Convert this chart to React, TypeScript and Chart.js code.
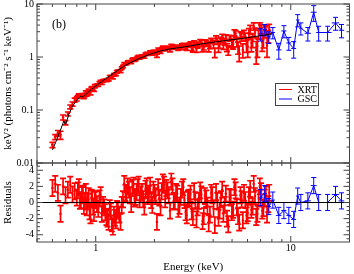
import React, { useEffect, useRef } from 'react';
import { Chart, registerables } from 'chart.js';

Chart.register(...registerables);

const SERIF = "'Liberation Serif', 'Times New Roman', Times, serif";

// ---------- XRT (red), first half of the bins ----------
const xrtEnergy = [
  0.60, 0.62, 0.64, 0.66, 0.68, 0.70, 0.72, 0.74, 0.76, 0.78, 0.80, 0.82, 0.84, 0.86, 0.88, 0.90, 0.92, 0.94, 0.96, 0.98,
  1.00, 1.03, 1.06, 1.09, 1.12, 1.15, 1.18, 1.21, 1.24, 1.27, 1.30,
  1.34, 1.38, 1.42, 1.46, 1.50, 1.54, 1.58, 1.62, 1.66, 1.70,
  1.75, 1.80, 1.85, 1.90, 1.95, 2.00,
  2.06, 2.12, 2.18, 2.24, 2.30,
  2.37, 2.44, 2.51, 2.58, 2.65,
  2.73, 2.81, 2.89, 2.97,
  3.06, 3.15, 3.24, 3.33,
  3.43, 3.53, 3.63, 3.74, 3.85, 3.96,
  4.08, 4.20, 4.32,
  4.45, 4.58, 4.71, 4.85, 4.99,
  5.14, 5.29, 5.44,
  5.60, 5.76, 5.93,
  6.10, 6.28, 6.46, 6.65, 6.84,
  7.04, 7.24, 7.45, 7.66,
];
const xrtHalfWidth = [
  0.01, 0.01, 0.01, 0.01, 0.01, 0.01, 0.01, 0.01, 0.01, 0.01, 0.01, 0.01, 0.01, 0.01, 0.01, 0.01, 0.01, 0.01, 0.01, 0.01,
  0.015, 0.015, 0.015, 0.015, 0.015, 0.015, 0.015, 0.015, 0.015, 0.015, 0.015,
  0.02, 0.02, 0.02, 0.02, 0.02, 0.02, 0.02, 0.02, 0.02, 0.02,
  0.025, 0.025, 0.025, 0.025, 0.025, 0.025,
  0.03, 0.03, 0.03, 0.03, 0.03,
  0.035, 0.035, 0.035, 0.035, 0.035,
  0.04, 0.04, 0.04, 0.04,
  0.045, 0.045, 0.045, 0.045,
  0.05, 0.05, 0.05, 0.05, 0.05, 0.05,
  0.06, 0.06, 0.06,
  0.065, 0.065, 0.065, 0.065, 0.065,
  0.075, 0.075, 0.075,
  0.08, 0.08, 0.08,
  0.09, 0.09, 0.09, 0.09, 0.09,
  0.1, 0.1, 0.1, 0.1,
];
const xrtFlux = [
  0.0220, 0.0310, 0.0366, 0.0338, 0.0726, 0.0578, 0.0843, 0.1148, 0.1298, 0.1539, 0.1632, 0.1909, 0.1879, 0.1885, 0.192, 0.1964, 0.232, 0.2087, 0.2595, 0.2427,
  0.2897, 0.2955, 0.3477, 0.3535, 0.3624, 0.3712, 0.4252, 0.4086, 0.4623, 0.4728, 0.5354,
  0.5355, 0.6634, 0.7329, 0.808, 0.8151, 0.8878, 0.8715, 0.9438, 1.0246, 1.008,
  1.022, 1.133, 1.130, 1.249, 1.147, 1.284,
  1.061, 1.326, 1.425, 1.521, 1.520,
  1.481, 1.655, 1.471, 1.590, 1.424,
  1.583, 1.719, 1.454, 1.639,
  1.781, 1.384, 1.728, 1.621,
  1.983, 1.410, 1.935, 1.768, 1.611, 2.043,
  1.221, 2.0, 1.721,
  2.427, 1.957, 1.527, 2.281, 1.788,
  2.883, 1.943, 1.214,
  2.402, 2.764, 1.642,
  2.868, 1.842, 3.802, 1.349, 2.799,
  3.411, 2.119, 3.264, 2.520,
];
const xrtFluxErr = [
  0.0025, 0.0033, 0.0044, 0.0059, 0.0079, 0.0053, 0.0073, 0.0094, 0.0118, 0.0135, 0.0154, 0.0118, 0.0129, 0.0123, 0.0133, 0.0144, 0.0154, 0.0165, 0.0175, 0.0187,
  0.0142, 0.0154, 0.0166, 0.0179, 0.0193, 0.0206, 0.0220, 0.0235, 0.0250, 0.0266, 0.0282,
  0.0304, 0.0325, 0.0346, 0.0367, 0.039, 0.0407, 0.0425, 0.0443, 0.0462, 0.048,
  0.0501, 0.0522, 0.0544, 0.0565, 0.0582, 0.0719,
  0.0743, 0.0768, 0.0789, 0.0806, 0.0823,
  0.0843, 0.0859, 0.0872, 0.0885, 0.0898,
  0.0911, 0.0926, 0.094, 0.0955,
  0.146, 0.149, 0.151, 0.154,
  0.157, 0.16, 0.162, 0.165, 0.168, 0.17,
  0.25, 0.253, 0.257,
  0.261, 0.265, 0.268, 0.272, 0.275,
  0.387, 0.392, 0.397,
  0.403, 0.409, 0.415,
  0.585, 0.594, 0.604, 0.613, 0.622,
  0.632, 0.642, 0.653, 0.663,
];
const xrtResidual = [
  1.8, 2.3, 1.2, -1.4, 2.0, 0.9, 1.6, 2.2, 1.0, 1.4, 0.6, 1.9, 0.3, 1.1, 0.2, -0.6, 0.8, -1.6, 0.5, -1.3,
  0.4, -0.8, 0.9, -0.3, -1.2, -2.0, -0.7, -2.6, -1.5, -2.2, -1.0,
  -2.4, 0.4, 1.2, 2.0, 0.9, 1.8, 0.5, 1.3, 2.2, 1.0,
  0.4, 1.7, 0.8, 2.1, -0.3, 1.2,
  -2.4, 0.6, 1.4, 2.2, 1.8,
  0.9, 2.6, 0.2, 1.3, -0.8,
  0.7, 1.9, -1.2, 0.5,
  1.1, -1.8, 0.3, -0.6,
  1.5, -2.3, 0.8, -0.4, -1.5, 0.9,
  -2.8, 0.2, -1.0,
  1.6, -0.3, -2.0, 0.7, -1.2,
  1.9, -0.6, -2.5,
  0.4, 1.2, -1.6,
  0.9, -0.9, 2.3, -1.8, 0.5,
  1.4, -0.7, 1.0, -0.2,
];

// ---------- XRT (red), second half of the bins ----------
const xrtEnergyB = [
  0.81, 0.83, 0.85, 0.87, 0.89, 0.91, 0.93, 0.95, 0.97, 0.99,
  1.015, 1.045, 1.075, 1.105, 1.135, 1.165, 1.195, 1.225, 1.255, 1.285,
  1.32, 1.36, 1.40, 1.44, 1.48, 1.52, 1.56, 1.60, 1.64, 1.68,
  1.725, 1.775, 1.825, 1.875, 1.925, 1.975,
  2.03, 2.09, 2.15, 2.21, 2.27,
  2.335, 2.405, 2.475, 2.545, 2.615,
  2.69, 2.77, 2.85, 2.93,
  3.015, 3.105, 3.195, 3.285,
  3.38, 3.48, 3.58, 3.685, 3.795, 3.905,
  4.02, 4.14, 4.26,
  4.385, 4.515, 4.645, 4.78, 4.92,
  5.065, 5.215, 5.365,
  5.52, 5.68, 5.845,
  6.015, 6.19, 6.37, 6.555, 6.745,
  6.94, 7.14, 7.345, 7.555, 7.75,
];
const xrtHalfWidthB = [
  0.01, 0.01, 0.01, 0.01, 0.01, 0.01, 0.01, 0.01, 0.01, 0.01,
  0.015, 0.015, 0.015, 0.015, 0.015, 0.015, 0.015, 0.015, 0.015, 0.015,
  0.02, 0.02, 0.02, 0.02, 0.02, 0.02, 0.02, 0.02, 0.02, 0.02,
  0.025, 0.025, 0.025, 0.025, 0.025, 0.025,
  0.03, 0.03, 0.03, 0.03, 0.03,
  0.035, 0.035, 0.035, 0.035, 0.035,
  0.04, 0.04, 0.04, 0.04,
  0.045, 0.045, 0.045, 0.045,
  0.05, 0.05, 0.05, 0.05, 0.05, 0.05,
  0.06, 0.06, 0.06,
  0.065, 0.065, 0.065, 0.065, 0.065,
  0.075, 0.075, 0.075,
  0.08, 0.08, 0.08,
  0.09, 0.09, 0.09, 0.09, 0.09,
  0.1, 0.1, 0.1, 0.1, 0.1,
];
const xrtFluxB = [
  0.1779, 0.1785, 0.1908, 0.1769, 0.2149, 0.2138, 0.2098, 0.2532, 0.2497, 0.2812,
  0.2928, 0.328, 0.3214, 0.3612, 0.3631, 0.3751, 0.4298, 0.4119, 0.4664, 0.5251,
  0.5419, 0.6206, 0.7482, 0.7497, 0.8178, 0.7895, 0.9198, 0.8986, 0.9898, 0.9598,
  1.0446, 0.9974, 1.1715, 1.1689, 1.1642, 1.2755,
  1.2765, 1.4025, 1.2532, 1.5284, 1.3896,
  1.5129, 1.3367, 1.6162, 1.4728, 1.583,
  1.4708, 1.678, 1.584, 1.4274,
  1.6917, 1.474, 1.877, 1.3771,
  1.7611, 1.9228, 1.5178, 1.9009, 1.4156, 2.0786,
  1.7069, 2.262, 1.4781,
  2.0966, 1.6556, 2.3432, 1.348, 2.2692,
  1.7875, 2.747, 1.5219,
  2.5843, 1.3632, 2.4137,
  1.568, 3.3616, 2.0956, 2.9184, 1.6055,
  3.762, 1.9118, 2.9797, 1.6456, 3.4736,
];
const xrtFluxErrB = [
  0.0113, 0.0123, 0.0126, 0.0127, 0.0138, 0.0149, 0.0159, 0.017, 0.0181, 0.0193,
  0.0148, 0.016, 0.0173, 0.0186, 0.02, 0.0213, 0.0227, 0.0242, 0.0258, 0.0274,
  0.0293, 0.0315, 0.0336, 0.0357, 0.0379, 0.0399, 0.0416, 0.0434, 0.0452, 0.0471,
  0.049, 0.0512, 0.0533, 0.0554, 0.0574, 0.0591,
  0.0731, 0.0755, 0.078, 0.0797, 0.0814,
  0.0833, 0.0853, 0.0866, 0.0878, 0.0891,
  0.0904, 0.0919, 0.0934, 0.0947,
  0.1445, 0.1472, 0.15, 0.1528,
  0.1557, 0.1588, 0.1613, 0.1637, 0.1663, 0.1688,
  0.2477, 0.2516, 0.2552,
  0.2591, 0.2631, 0.2665, 0.27, 0.2737,
  0.3839, 0.3893, 0.3947,
  0.4003, 0.4063, 0.4122,
  0.5808, 0.5898, 0.5988, 0.608, 0.6175,
  0.627, 0.6373, 0.6478, 0.6583, 0.668,
];
const xrtResidualB = [
  1.5, 0.2, 0.9, -0.4, 1.3, 0.1, -1.1, 0.6, -0.5, 0.3,
  -0.2, 0.5, -1.4, -0.6, -1.8, -2.4, -1.1, -3.0, -1.9, -0.8,
  -1.5, -0.3, 2.3, 1.0, 1.6, -0.2, 2.1, 0.7, 1.9, 0.4,
  1.3, -0.5, 2.0, 1.1, 0.3, 1.6,
  0.8, 1.9, -0.6, 2.5, 0.4,
  1.5, -1.0, 2.0, 0.1, 1.1,
  -0.4, 1.6, 0.3, -1.6,
  0.6, -1.1, 1.4, -2.1,
  0.2, 1.0, -1.7, 0.5, -2.6, 1.2,
  -0.8, 1.3, -1.9,
  0.4, -1.4, 1.1, -2.7, 0.6,
  -0.9, 1.5, -1.7,
  0.9, -2.2, 0.3,
  -1.3, 1.7, -0.5, 0.8, -1.4,
  2.0, -1.0, 0.6, -1.5, 1.2,
];
const residualErr = 1;

// ---------- GSC (blue) ----------
const gscEnergy = [7.01, 7.35, 7.72, 8.09, 8.68, 9.22, 9.77, 10.35, 10.85, 11.26, 12.23, 13.11, 13.9, 15.44, 16.96, 18.2];
const gscHalfWidth = [0.17, 0.18, 0.19, 0.2, 0.28, 0.28, 0.28, 0.3, 0.22, 0.22, 0.45, 0.45, 0.4, 0.75, 0.75, 0.6];
const gscFlux = [2.7, 3.3, 2.4, 2.9, 1.36, 3.1, 1.84, 1.45, 5.0, 3.5, 2.8, 7.0, 2.9, 2.9, 4.4, 3.2];
const gscFluxErr = [0.7, 0.8, 0.6, 0.7, 0.45, 0.8, 0.5, 0.5, 1.3, 0.9, 0.8, 2.3, 0.9, 0.9, 1.2, 0.9];
const gscResidual = [0.6, 1.1, -0.5, 0.3, -1.6, -1.0, -1.6, -2.1, 0.8, 0.0, 0.2, 2.1, 0.0, 0.0, 1.0, 0.2];

// ---------- model ----------
const modelEnergy = [0.60, 0.63, 0.66, 0.686, 0.70, 0.727, 0.76, 0.80, 0.84, 0.86, 0.90, 0.95, 1.00, 1.10, 1.20, 1.35, 1.50, 1.70, 1.90, 2.15, 2.40, 2.70, 3.00, 3.50, 4.00, 4.50, 5.00, 5.50, 6.00, 7.00, 8.00];
const modelFlux = [0.0176, 0.027, 0.042, 0.062, 0.053, 0.081, 0.118, 0.154, 0.184, 0.175, 0.205, 0.243, 0.284, 0.368, 0.46, 0.62, 0.78, 0.96, 1.13, 1.30, 1.42, 1.51, 1.60, 1.77, 1.90, 2.02, 2.12, 2.22, 2.32, 2.52, 2.72];
const zeroLineEnergy = [0.5, 20];
const zeroLineResidual = [0, 0];

// ---------- axes ----------
const energyTicks = [0.5, 0.6, 0.7, 0.8, 0.9, 1, 2, 3, 4, 5, 6, 7, 8, 9, 10, 20];
const energyMajor = [1, 10];
const energyMajorLabels = ['1', '10'];
const fluxTicks = [
  0.01, 0.02, 0.03, 0.04, 0.05, 0.06, 0.07, 0.08, 0.09,
  0.1, 0.2, 0.3, 0.4, 0.5, 0.6, 0.7, 0.8, 0.9,
  1, 2, 3, 4, 5, 6, 7, 8, 9, 10,
];
const fluxMajor = [0.01, 0.1, 1, 10];
const fluxMajorLabels = ['0.01', '0.1', '1', '10'];
const residualTicks = [-4.5, -4, -3.5, -3, -2.5, -2, -1.5, -1, -0.5, 0, 0.5, 1, 1.5, 2, 2.5, 3, 3.5, 4, 4.5];
const residualMajor = [-4, -2, 0, 2, 4];
const residualMajorLabels = ['-4', '-2', '0', '2', '4'];

const RED = '#ff0000';
const BLUE = '#0000ff';
const FRAME = '#444444';

const xrtAllEnergy = [...xrtEnergy, ...xrtEnergyB];
const xrtAllHalfWidth = [...xrtHalfWidth, ...xrtHalfWidthB];
const xrtAllFlux = [...xrtFlux, ...xrtFluxB];
const xrtAllFluxErr = [...xrtFluxErr, ...xrtFluxErrB];
const xrtAllResidual = [...xrtResidual, ...xrtResidualB];

const pts = (xs: number[], ys: number[]) => xs.map((x, i) => ({ x, y: ys[i] }));
const near = (a: number, b: number) => Math.abs(a - b) < 1e-9 * Math.max(1, Math.abs(b));
const majorIdx = (v: number, arr: number[]) => arr.findIndex((m) => near(v, m));
const noPad = (s: any) => { s.paddingTop = 0; s.paddingBottom = 0; s.paddingLeft = 0; s.paddingRight = 0; };

const errorBarPlugin = {
  id: 'errorBars',
  afterDatasetDraw(chart: any, args: any) {
    const ds = chart.data.datasets[args.index];
    const eb = ds.errorBars;
    if (!eb) return;
    const xs = chart.scales.x;
    const ys = chart.scales[ds.yAxisID];
    const ctx = chart.ctx;
    ctx.save();
    ctx.beginPath();
    ctx.rect(xs.left, ys.top, xs.right - xs.left, ys.bottom - ys.top);
    ctx.clip();
    ctx.strokeStyle = ds.borderColor;
    ctx.lineWidth = eb.width || 1;
    const cap = eb.cap || 2.5;
    ctx.beginPath();
    for (let i = 0; i < eb.x.length; i++) {
      const e = eb.x[i];
      const v = eb.y[i];
      const dx = eb.xErr[i];
      const dy = typeof eb.yErr === 'number' ? eb.yErr : eb.yErr[i];
      const px = xs.getPixelForValue(e);
      const p1 = xs.getPixelForValue(e - dx);
      const p2 = xs.getPixelForValue(e + dx);
      const py = ys.getPixelForValue(v);
      const pt = ys.getPixelForValue(v + dy);
      const lo = v - dy;
      const pb = ys.type === 'logarithmic' && lo <= 0 ? ys.bottom + 20 : ys.getPixelForValue(lo);
      ctx.moveTo(p1, py); ctx.lineTo(p2, py);
      ctx.moveTo(px, pt); ctx.lineTo(px, pb);
      ctx.moveTo(px - cap, pt); ctx.lineTo(px + cap, pt);
      ctx.moveTo(px - cap, pb); ctx.lineTo(px + cap, pb);
    }
    ctx.stroke();
    ctx.restore();
  },
};

const framePlugin = {
  id: 'frames',
  afterDraw(chart: any) {
    const ctx = chart.ctx;
    const xs = chart.scales.x;
    const yt = chart.scales.y;
    const yb = chart.scales.y2;
    const L = xs.left;
    const R = xs.right;
    ctx.save();
    ctx.strokeStyle = FRAME;
    ctx.lineWidth = 1;
    for (const p of [yt, yb]) ctx.strokeRect(L, p.top, R - L, p.bottom - p.top);
    ctx.beginPath();
    for (const t of xs.ticks) {
      const px = xs.getPixelForValue(t.value);
      const len = majorIdx(t.value, energyMajor) >= 0 ? 6 : 3;
      for (const p of [yt, yb]) {
        ctx.moveTo(px, p.top); ctx.lineTo(px, p.top + len);
        ctx.moveTo(px, p.bottom); ctx.lineTo(px, p.bottom - len);
      }
    }
    for (const t of yt.ticks) {
      const py = yt.getPixelForValue(t.value);
      const len = majorIdx(t.value, fluxMajor) >= 0 ? 6 : 3;
      ctx.moveTo(L, py); ctx.lineTo(L + len, py);
      ctx.moveTo(R, py); ctx.lineTo(R - len, py);
    }
    for (const t of yb.ticks) {
      const py = yb.getPixelForValue(t.value);
      const len = majorIdx(t.value, residualMajor) >= 0 ? 6 : 3;
      ctx.moveTo(L, py); ctx.lineTo(L + len, py);
      ctx.moveTo(R, py); ctx.lineTo(R - len, py);
    }
    ctx.stroke();

    // energy tick labels, just below the lower panel
    ctx.fillStyle = '#000';
    ctx.font = `10px ${SERIF}`;
    ctx.textAlign = 'center';
    ctx.textBaseline = 'middle';
    energyMajor.forEach((v, i) => {
      ctx.fillText(energyMajorLabels[i], xs.getPixelForValue(v), yb.bottom + 6.5);
    });

    // legend box
    const items = chart.data.datasets.filter((d: any) => d.inLegend);
    const bx = 275.5, by = 83.5, bw = 43, bh = 22;
    ctx.fillStyle = '#ffffff';
    ctx.fillRect(bx, by, bw, bh);
    ctx.strokeStyle = FRAME;
    ctx.strokeRect(bx, by, bw, bh);
    ctx.font = `10px ${SERIF}`;
    ctx.textBaseline = 'middle';
    ctx.textAlign = 'left';
    items.forEach((d: any, i: number) => {
      const yy = by + 6 + i * 9.5;
      ctx.strokeStyle = d.borderColor;
      ctx.beginPath();
      ctx.moveTo(bx + 3.5, yy); ctx.lineTo(bx + 16.5, yy);
      ctx.stroke();
      ctx.fillStyle = '#000';
      ctx.fillText(d.label, bx + 22, yy + 0.5);
    });

    // panel label
    ctx.font = `12px ${SERIF}`;
    ctx.fillStyle = '#000';
    ctx.fillText('(b)', 52, 25);
    ctx.restore();
  },
};

export default function App() {
  const ref = useRef<HTMLCanvasElement | null>(null);
  useEffect(() => {
    if (!ref.current) return;
    const tickFont = { family: SERIF, size: 10 };
    const titleFont = { family: SERIF, size: 11 };
    const chart = new Chart(ref.current, {
      type: 'scatter',
      data: {
        datasets: [
          {
            label: 'XRT', inLegend: true, data: pts(xrtAllEnergy, xrtAllFlux), xAxisID: 'x', yAxisID: 'y',
            borderColor: RED, backgroundColor: RED, pointRadius: 0, showLine: false, order: 6,
            errorBars: { x: xrtAllEnergy, y: xrtAllFlux, xErr: xrtAllHalfWidth, yErr: xrtAllFluxErr, width: 1.7, cap: 3 },
          },
          {
            label: 'XRT residual', data: pts(xrtAllEnergy, xrtAllResidual), xAxisID: 'x', yAxisID: 'y2',
            borderColor: RED, backgroundColor: RED, pointRadius: 0, showLine: false, order: 6,
            errorBars: { x: xrtAllEnergy, y: xrtAllResidual, xErr: xrtAllHalfWidth, yErr: residualErr, width: 1.7, cap: 3 },
          },
          {
            label: 'GSC', inLegend: true, data: pts(gscEnergy, gscFlux), xAxisID: 'x', yAxisID: 'y',
            borderColor: BLUE, backgroundColor: BLUE, borderWidth: 1, pointRadius: 0, showLine: true, order: 4,
            errorBars: { x: gscEnergy, y: gscFlux, xErr: gscHalfWidth, yErr: gscFluxErr },
          },
          {
            label: 'GSC residual', data: pts(gscEnergy, gscResidual), xAxisID: 'x', yAxisID: 'y2',
            borderColor: BLUE, backgroundColor: BLUE, borderWidth: 1, pointRadius: 0, showLine: true, order: 4,
            errorBars: { x: gscEnergy, y: gscResidual, xErr: gscHalfWidth, yErr: residualErr },
          },
          {
            label: 'model', data: pts(modelEnergy, modelFlux), xAxisID: 'x', yAxisID: 'y',
            borderColor: '#000', borderWidth: 1, pointRadius: 0, showLine: true, order: 1,
          },
          {
            label: 'zero', data: pts(zeroLineEnergy, zeroLineResidual), xAxisID: 'x', yAxisID: 'y2',
            borderColor: '#000', borderWidth: 1, pointRadius: 0, showLine: true, order: 1,
          },
        ] as any,
      },
      options: {
        responsive: false,
        maintainAspectRatio: false,
        animation: false,
        events: [],
        layout: { padding: { left: 0, right: 4.5, top: 4, bottom: 0 } },
        plugins: { legend: { display: false }, tooltip: { enabled: false } },
        scales: {
          x: {
            type: 'logarithmic', position: 'bottom', min: 0.5, max: 20,
            grid: { display: false, drawTicks: false }, border: { display: false },
            afterBuildTicks: (s: any) => { s.ticks = energyTicks.map((v) => ({ value: v })); },
            afterFit: (s: any) => { s.height = 32; noPad(s); },
            ticks: { display: false },
            title: { display: true, text: 'Energy (keV)', color: '#000', font: titleFont, padding: { top: 0, bottom: 0 } },
          },
          y2: {
            type: 'linear', position: 'left', stack: 'panels', stackWeight: 79, weight: 0, min: -4.9, max: 4.9,
            grid: { display: false, drawTicks: false }, border: { display: false },
            afterBuildTicks: (s: any) => { s.ticks = residualTicks.map((v) => ({ value: v })); },
            afterFit: (s: any) => { s.width = 37; noPad(s); },
            ticks: {
              autoSkip: false, padding: 3, color: '#000', font: tickFont,
              callback: (v: any) => { const i = majorIdx(Number(v), residualMajor); return i >= 0 ? residualMajorLabels[i] : ''; },
            },
            title: { display: true, text: 'Residuals', color: '#000', font: titleFont, padding: { top: 2, bottom: 0 } },
          },
          y: {
            type: 'logarithmic', position: 'left', stack: 'panels', stackWeight: 159, weight: 1, min: 0.01, max: 10,
            grid: { display: false, drawTicks: false }, border: { display: false },
            afterBuildTicks: (s: any) => { s.ticks = fluxTicks.map((v) => ({ value: v })); },
            afterFit: (s: any) => { s.width = 37; noPad(s); },
            ticks: {
              autoSkip: false, padding: 3, color: '#000', font: tickFont,
              callback: (v: any) => { const i = majorIdx(Number(v), fluxMajor); return i >= 0 ? fluxMajorLabels[i] : ''; },
            },
            title: {
              display: true, text: 'keV\u00B2 (photons cm\u207B\u00B2 s\u207B\u00B9 keV\u207B\u00B9)', color: '#000',
              font: titleFont, padding: { top: 2, bottom: 0 },
            },
          },
        } as any,
      },
      plugins: [errorBarPlugin, framePlugin],
    } as any);
    return () => chart.destroy();
  }, []);

  return (
    <div style={{ position: 'fixed', left: 0, top: 0, width: 354, height: 274, background: '#fff' }}>
      <canvas ref={ref} width={354} height={274} style={{ display: 'block', width: 354, height: 274 }} />
    </div>
  );
}
